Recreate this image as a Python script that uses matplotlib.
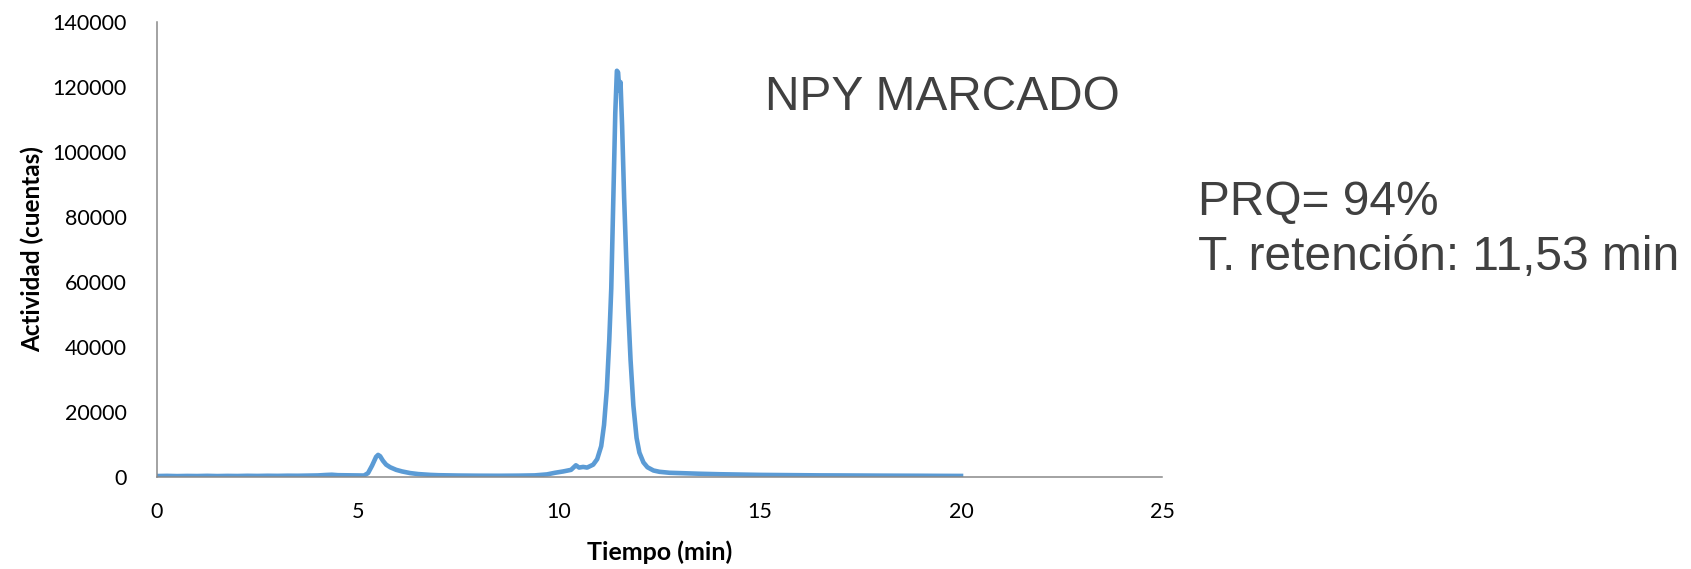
import matplotlib
matplotlib.use("Agg")
import matplotlib.pyplot as plt

tiempo = [0.0, 0.25, 0.5, 0.75, 1.0, 1.25, 1.5, 1.75, 2.0, 2.25, 2.5, 2.75,
          3.0, 3.25, 3.5, 3.75, 4.0, 4.2, 4.35, 4.5, 4.75, 5.0, 5.15, 5.25,
          5.35, 5.45, 5.5, 5.55, 5.62, 5.7, 5.8, 5.95, 6.1, 6.3, 6.5, 6.8,
          7.0, 7.5, 8.0, 8.5, 9.0, 9.4, 9.7, 9.9, 10.1, 10.3, 10.42, 10.5,
          10.6, 10.7, 10.85, 10.95, 11.05, 11.12, 11.19, 11.25, 11.3, 11.35,
          11.4, 11.44, 11.47, 11.5, 11.53, 11.57, 11.62, 11.67, 11.72, 11.78,
          11.85, 11.93, 12.0, 12.1, 12.2, 12.35, 12.5, 12.75, 13.0, 13.5,
          14.0, 14.5, 15.0, 15.5, 16.0, 16.5, 17.0, 17.5, 18.0, 18.5, 19.0,
          19.5, 20.0]
actividad = [300, 350, 280, 330, 300, 360, 290, 340, 310, 370, 330, 380,
             350, 400, 380, 430, 480, 620, 700, 560, 520, 480, 450, 1200,
             3500, 6200, 6800, 6400, 5000, 3800, 3000, 2200, 1700, 1200, 900, 650,
             550, 450, 400, 380, 420, 500, 800, 1300, 1700, 2200, 3600, 2900,
             3100, 2900, 3800, 5500, 9500, 16000, 27000, 42000, 58000, 85000,
             112000, 125000, 124500, 119000, 121500, 108000, 86000, 68000, 52000, 36000,
             22000, 12000, 7500, 4500, 3000, 2000, 1600, 1300, 1200, 1000,
             850, 750, 650, 600, 550, 500, 480, 450, 420, 400, 380,
             350, 330]

x_ticks = [0, 5, 10, 15, 20, 25]
y_ticks = [0, 20000, 40000, 60000, 80000, 100000, 120000, 140000]

fig = plt.figure(figsize=(16.91, 5.69), dpi=100)
ax = fig.add_axes([157 / 1691, 92 / 569, 1005 / 1691, 455 / 569])

ax.plot(tiempo, actividad, color="#5B9BD5", linewidth=3.3)

ax.set_xlim(0, 25)
ax.set_ylim(0, 140000)
ax.set_xticks(x_ticks)
ax.set_yticks(y_ticks)
ax.set_xticklabels([str(v) for v in x_ticks], fontfamily="Lato", fontsize=15.5)
ax.set_yticklabels([str(v) for v in y_ticks], fontfamily="Lato", fontsize=15.5)
ax.tick_params(axis="x", length=0, pad=18)
ax.tick_params(axis="y", length=0, pad=22)

for side in ["top", "right"]:
    ax.spines[side].set_visible(False)
for side in ["left", "bottom"]:
    ax.spines[side].set_color("#898989")
    ax.spines[side].set_linewidth(1.1)

ax.set_xlabel("Tiempo (min)", fontfamily="Lato", fontweight="bold", fontsize=18)
ax.set_ylabel("Actividad (cuentas)", fontfamily="Lato", fontweight="bold", fontsize=17.5)
ax.xaxis.label.set_va("center")
ax.yaxis.label.set_va("center")
ax.xaxis.set_label_coords(0.5, -0.165)
ax.yaxis.set_label_coords(-0.1244, 0.5)

# textos
fig.text(765 / 1691, 1 - 110 / 569, "NPY MARCADO", fontfamily="Liberation Sans",
         fontsize=34.5, color="#404040", va="baseline")
fig.text(1198 / 1691, 1 - 215 / 569, "PRQ= 94%", fontfamily="Liberation Sans",
         fontsize=34.5, color="#404040", va="baseline")
fig.text(1198 / 1691, 1 - 270 / 569, "T. retención: 11,53 min", fontfamily="Liberation Sans",
         fontsize=34.5, color="#404040", va="baseline")

fig.savefig("out.png", dpi=100)
